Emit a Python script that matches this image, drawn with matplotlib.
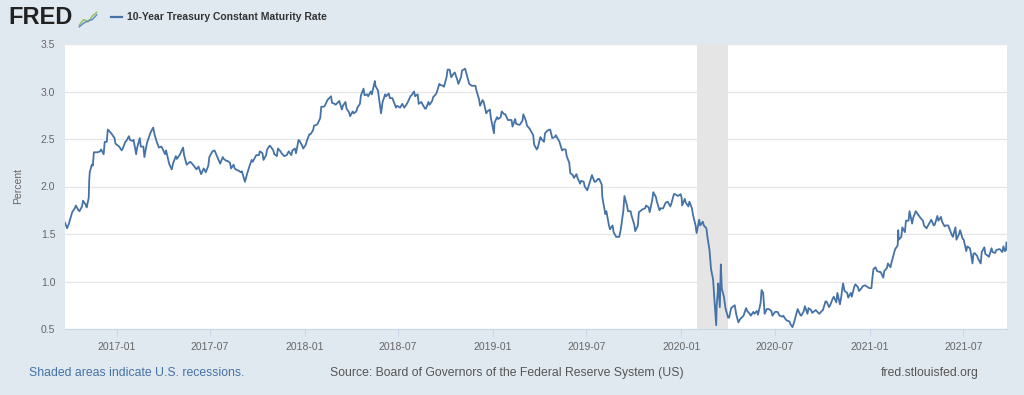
import pandas as pd
import matplotlib.pyplot as plt
import matplotlib.dates as mdates

plt.rcParams['font.family'] = ['Liberation Sans', 'DejaVu Sans']

# Valores aproximados (10-Year Treasury, %)
fechas_2016 = ['2016-09-23', '2016-09-27', '2016-09-30', '2016-10-05', '2016-10-07', '2016-10-12',
               '2016-10-14', '2016-10-19', '2016-10-21', '2016-10-26', '2016-10-28', '2016-11-02',
               '2016-11-04', '2016-11-08', '2016-11-09', '2016-11-10', '2016-11-14', '2016-11-16',
               '2016-11-18', '2016-11-23', '2016-11-25', '2016-11-30', '2016-12-02', '2016-12-07',
               '2016-12-09', '2016-12-13', '2016-12-15', '2016-12-20', '2016-12-23', '2016-12-28',
               '2016-12-30']
tasa_2016 = [1.62, 1.56, 1.60, 1.69, 1.73, 1.77, 1.80, 1.75, 1.74, 1.79, 1.85, 1.81,
             1.78, 1.88, 2.07, 2.15, 2.23, 2.22, 2.36, 2.36, 2.36, 2.37, 2.39, 2.34,
             2.47, 2.47, 2.60, 2.57, 2.55, 2.51, 2.45]

fechas_2017 = ['2017-01-06', '2017-01-11', '2017-01-13', '2017-01-18', '2017-01-20', '2017-01-25',
               '2017-01-27', '2017-02-01', '2017-02-03', '2017-02-08', '2017-02-10', '2017-02-15',
               '2017-02-17', '2017-02-22', '2017-02-24', '2017-03-01', '2017-03-03', '2017-03-08',
               '2017-03-13', '2017-03-16', '2017-03-20', '2017-03-24', '2017-03-29', '2017-03-31',
               '2017-04-05', '2017-04-07', '2017-04-13', '2017-04-18', '2017-04-21', '2017-04-26',
               '2017-04-28', '2017-05-03', '2017-05-05', '2017-05-10', '2017-05-12', '2017-05-17',
               '2017-05-19', '2017-05-24', '2017-05-26', '2017-06-01', '2017-06-05', '2017-06-09',
               '2017-06-14', '2017-06-19', '2017-06-23', '2017-06-28', '2017-06-30', '2017-07-06',
               '2017-07-10', '2017-07-14', '2017-07-19', '2017-07-21', '2017-07-26', '2017-07-28',
               '2017-08-02', '2017-08-04', '2017-08-09', '2017-08-11', '2017-08-16', '2017-08-18',
               '2017-08-23', '2017-08-25', '2017-08-30', '2017-09-01', '2017-09-07', '2017-09-11',
               '2017-09-15', '2017-09-20', '2017-09-22', '2017-09-27', '2017-09-29', '2017-10-04',
               '2017-10-06', '2017-10-11', '2017-10-13', '2017-10-18', '2017-10-20', '2017-10-25',
               '2017-10-27', '2017-11-01', '2017-11-03', '2017-11-08', '2017-11-10', '2017-11-15',
               '2017-11-17', '2017-11-22', '2017-11-27', '2017-12-01', '2017-12-06', '2017-12-08',
               '2017-12-13', '2017-12-15', '2017-12-20', '2017-12-22', '2017-12-27', '2017-12-29']
tasa_2017 = [2.42, 2.38, 2.40, 2.47, 2.48, 2.53, 2.49, 2.48, 2.49, 2.34, 2.41, 2.51,
             2.42, 2.42, 2.31, 2.46, 2.49, 2.57, 2.62, 2.54, 2.47, 2.41, 2.42, 2.40,
             2.34, 2.38, 2.24, 2.18, 2.25, 2.32, 2.29, 2.33, 2.35, 2.41, 2.33, 2.23,
             2.24, 2.26, 2.25, 2.21, 2.18, 2.21, 2.13, 2.19, 2.15, 2.22, 2.31, 2.37,
             2.38, 2.33, 2.27, 2.24, 2.31, 2.29, 2.27, 2.27, 2.25, 2.19, 2.23, 2.19,
             2.17, 2.17, 2.15, 2.16, 2.05, 2.13, 2.20, 2.28, 2.26, 2.31, 2.33, 2.33,
             2.37, 2.35, 2.28, 2.33, 2.39, 2.43, 2.42, 2.38, 2.34, 2.32, 2.40, 2.37,
             2.35, 2.32, 2.33, 2.37, 2.33, 2.38, 2.40, 2.35, 2.49, 2.48, 2.43, 2.40]

fechas_2018 = ['2018-01-03', '2018-01-05', '2018-01-10', '2018-01-12', '2018-01-17', '2018-01-19',
               '2018-01-24', '2018-01-26', '2018-01-31', '2018-02-02', '2018-02-07', '2018-02-09',
               '2018-02-14', '2018-02-21', '2018-02-23', '2018-02-28', '2018-03-02', '2018-03-07',
               '2018-03-09', '2018-03-14', '2018-03-16', '2018-03-21', '2018-03-23', '2018-03-28',
               '2018-03-30', '2018-04-04', '2018-04-06', '2018-04-11', '2018-04-13', '2018-04-18',
               '2018-04-20', '2018-04-25', '2018-04-27', '2018-05-02', '2018-05-04', '2018-05-09',
               '2018-05-11', '2018-05-17', '2018-05-18', '2018-05-23', '2018-05-25', '2018-05-29',
               '2018-06-01', '2018-06-06', '2018-06-08', '2018-06-13', '2018-06-15', '2018-06-20',
               '2018-06-22', '2018-06-27', '2018-06-29', '2018-07-05', '2018-07-09', '2018-07-13',
               '2018-07-18', '2018-07-20', '2018-07-25', '2018-07-27', '2018-08-01', '2018-08-03',
               '2018-08-08', '2018-08-10', '2018-08-15', '2018-08-17', '2018-08-22', '2018-08-24',
               '2018-08-29', '2018-08-31', '2018-09-05', '2018-09-07', '2018-09-12', '2018-09-14',
               '2018-09-19', '2018-09-21', '2018-09-26', '2018-09-28', '2018-10-03', '2018-10-05',
               '2018-10-09', '2018-10-12', '2018-10-17', '2018-10-19', '2018-10-24', '2018-10-26',
               '2018-10-31', '2018-11-02', '2018-11-08', '2018-11-13', '2018-11-16', '2018-11-21',
               '2018-11-23', '2018-11-28', '2018-11-30', '2018-12-05', '2018-12-07', '2018-12-12',
               '2018-12-14', '2018-12-19', '2018-12-21', '2018-12-26', '2018-12-28']
tasa_2018 = [2.44, 2.48, 2.55, 2.55, 2.59, 2.64, 2.65, 2.66, 2.72, 2.84, 2.84, 2.85,
             2.91, 2.95, 2.88, 2.87, 2.86, 2.89, 2.90, 2.81, 2.85, 2.89, 2.82, 2.78,
             2.74, 2.79, 2.77, 2.79, 2.83, 2.87, 2.96, 3.03, 2.96, 2.97, 2.95, 3.00,
             2.97, 3.11, 3.06, 3.01, 2.93, 2.77, 2.89, 2.97, 2.95, 2.98, 2.93, 2.93,
             2.90, 2.83, 2.85, 2.83, 2.87, 2.83, 2.87, 2.89, 2.95, 2.96, 3.00, 2.95,
             2.97, 2.87, 2.89, 2.87, 2.82, 2.82, 2.89, 2.86, 2.90, 2.94, 2.97, 2.99,
             3.08, 3.07, 3.06, 3.05, 3.15, 3.23, 3.23, 3.15, 3.19, 3.20, 3.12, 3.08,
             3.15, 3.22, 3.24, 3.14, 3.08, 3.06, 3.06, 3.06, 3.01, 2.92, 2.85, 2.91,
             2.89, 2.77, 2.79, 2.81, 2.72]

fechas_2019 = ['2019-01-03', '2019-01-04', '2019-01-09', '2019-01-11', '2019-01-16', '2019-01-18',
               '2019-01-23', '2019-01-25', '2019-01-30', '2019-02-01', '2019-02-06', '2019-02-08',
               '2019-02-13', '2019-02-15', '2019-02-20', '2019-02-22', '2019-02-27', '2019-03-01',
               '2019-03-06', '2019-03-08', '2019-03-13', '2019-03-15', '2019-03-20', '2019-03-22',
               '2019-03-27', '2019-03-29', '2019-04-03', '2019-04-05', '2019-04-10', '2019-04-12',
               '2019-04-17', '2019-04-22', '2019-04-26', '2019-05-01', '2019-05-03', '2019-05-08',
               '2019-05-10', '2019-05-15', '2019-05-17', '2019-05-22', '2019-05-24', '2019-05-29',
               '2019-05-31', '2019-06-05', '2019-06-07', '2019-06-12', '2019-06-14', '2019-06-19',
               '2019-06-21', '2019-06-26', '2019-06-28', '2019-07-03', '2019-07-08', '2019-07-12',
               '2019-07-17', '2019-07-19', '2019-07-24', '2019-07-26', '2019-07-31', '2019-08-01',
               '2019-08-02', '2019-08-07', '2019-08-09', '2019-08-14', '2019-08-16', '2019-08-21',
               '2019-08-23', '2019-08-28', '2019-09-03', '2019-09-06', '2019-09-11', '2019-09-13',
               '2019-09-18', '2019-09-20', '2019-09-25', '2019-09-27', '2019-10-02', '2019-10-04',
               '2019-10-09', '2019-10-11', '2019-10-16', '2019-10-18', '2019-10-23', '2019-10-25',
               '2019-10-30', '2019-11-01', '2019-11-06', '2019-11-08', '2019-11-13', '2019-11-15',
               '2019-11-20', '2019-11-22', '2019-11-27', '2019-12-02', '2019-12-06', '2019-12-11',
               '2019-12-13', '2019-12-18', '2019-12-20', '2019-12-26', '2019-12-31']
tasa_2019 = [2.56, 2.67, 2.73, 2.71, 2.73, 2.79, 2.76, 2.76, 2.70, 2.70, 2.70, 2.63,
             2.71, 2.66, 2.65, 2.65, 2.69, 2.76, 2.69, 2.64, 2.61, 2.59, 2.54, 2.44,
             2.39, 2.41, 2.52, 2.50, 2.47, 2.56, 2.59, 2.60, 2.51, 2.52, 2.54, 2.49,
             2.47, 2.38, 2.39, 2.39, 2.32, 2.25, 2.14, 2.12, 2.09, 2.13, 2.09, 2.03,
             2.06, 2.05, 2.00, 1.96, 2.05, 2.12, 2.05, 2.05, 2.08, 2.08, 2.02, 1.90,
             1.86, 1.71, 1.74, 1.59, 1.55, 1.59, 1.52, 1.47, 1.47, 1.55, 1.75, 1.90,
             1.80, 1.74, 1.74, 1.69, 1.60, 1.53, 1.59, 1.73, 1.75, 1.76, 1.77, 1.80,
             1.78, 1.73, 1.86, 1.94, 1.89, 1.84, 1.75, 1.77, 1.77, 1.83, 1.84, 1.79,
             1.82, 1.92, 1.92, 1.90, 1.92]

fechas_2020 = ['2020-01-02', '2020-01-03', '2020-01-08', '2020-01-10', '2020-01-15', '2020-01-17',
               '2020-01-22', '2020-01-24', '2020-01-29', '2020-01-31', '2020-02-05', '2020-02-07',
               '2020-02-12', '2020-02-14', '2020-02-19', '2020-02-21', '2020-02-25', '2020-02-28',
               '2020-03-03', '2020-03-06', '2020-03-09', '2020-03-10', '2020-03-12', '2020-03-13',
               '2020-03-16', '2020-03-18', '2020-03-20', '2020-03-24', '2020-03-27', '2020-04-01',
               '2020-04-03', '2020-04-07', '2020-04-09', '2020-04-14', '2020-04-17', '2020-04-21',
               '2020-04-24', '2020-04-29', '2020-05-01', '2020-05-06', '2020-05-08', '2020-05-13',
               '2020-05-15', '2020-05-20', '2020-05-22', '2020-05-27', '2020-05-29', '2020-06-03',
               '2020-06-05', '2020-06-08', '2020-06-11', '2020-06-15', '2020-06-19', '2020-06-24',
               '2020-06-26', '2020-07-01', '2020-07-06', '2020-07-10', '2020-07-15', '2020-07-17',
               '2020-07-22', '2020-07-24', '2020-07-29', '2020-07-31', '2020-08-04', '2020-08-07',
               '2020-08-12', '2020-08-14', '2020-08-19', '2020-08-21', '2020-08-26', '2020-08-28',
               '2020-09-02', '2020-09-04', '2020-09-09', '2020-09-11', '2020-09-16', '2020-09-18',
               '2020-09-23', '2020-09-25', '2020-09-30', '2020-10-02', '2020-10-07', '2020-10-09',
               '2020-10-14', '2020-10-16', '2020-10-21', '2020-10-23', '2020-10-28', '2020-10-30',
               '2020-11-04', '2020-11-06', '2020-11-10', '2020-11-13', '2020-11-18', '2020-11-20',
               '2020-11-25', '2020-11-27', '2020-12-02', '2020-12-04', '2020-12-09', '2020-12-11',
               '2020-12-16', '2020-12-18', '2020-12-23', '2020-12-28', '2020-12-31']
tasa_2020 = [1.88, 1.80, 1.87, 1.83, 1.79, 1.84, 1.77, 1.70, 1.59, 1.51, 1.65, 1.59,
             1.63, 1.59, 1.56, 1.47, 1.33, 1.13, 1.02, 0.77, 0.54, 0.76, 0.88, 0.98,
             0.73, 1.18, 0.92, 0.84, 0.72, 0.62, 0.62, 0.72, 0.73, 0.75, 0.65, 0.57,
             0.60, 0.63, 0.64, 0.72, 0.69, 0.66, 0.64, 0.68, 0.66, 0.69, 0.65, 0.77,
             0.91, 0.88, 0.66, 0.71, 0.71, 0.69, 0.64, 0.68, 0.68, 0.64, 0.63, 0.64,
             0.60, 0.59, 0.58, 0.55, 0.52, 0.57, 0.67, 0.71, 0.65, 0.64, 0.69, 0.74,
             0.66, 0.72, 0.70, 0.67, 0.69, 0.70, 0.67, 0.66, 0.69, 0.70, 0.79, 0.79,
             0.73, 0.75, 0.82, 0.84, 0.78, 0.88, 0.76, 0.82, 0.98, 0.90, 0.88, 0.83,
             0.88, 0.84, 0.95, 0.97, 0.94, 0.90, 0.93, 0.95, 0.96, 0.94, 0.93]

fechas_2021 = ['2021-01-04', '2021-01-06', '2021-01-08', '2021-01-12', '2021-01-15', '2021-01-20',
               '2021-01-22', '2021-01-27', '2021-01-29', '2021-02-03', '2021-02-05', '2021-02-10',
               '2021-02-12', '2021-02-17', '2021-02-19', '2021-02-24', '2021-02-25', '2021-02-26',
               '2021-03-03', '2021-03-05', '2021-03-10', '2021-03-12', '2021-03-17', '2021-03-19',
               '2021-03-24', '2021-03-26', '2021-03-31', '2021-04-05', '2021-04-09', '2021-04-14',
               '2021-04-16', '2021-04-21', '2021-04-23', '2021-04-28', '2021-04-30', '2021-05-05',
               '2021-05-07', '2021-05-12', '2021-05-14', '2021-05-19', '2021-05-21', '2021-05-26',
               '2021-05-28', '2021-06-02', '2021-06-04', '2021-06-09', '2021-06-11', '2021-06-16',
               '2021-06-18', '2021-06-23', '2021-06-25', '2021-06-30', '2021-07-02', '2021-07-07',
               '2021-07-09', '2021-07-14', '2021-07-16', '2021-07-19', '2021-07-21', '2021-07-23',
               '2021-07-28', '2021-07-30', '2021-08-04', '2021-08-06', '2021-08-11', '2021-08-13',
               '2021-08-18', '2021-08-20', '2021-08-25', '2021-08-27', '2021-09-01', '2021-09-03',
               '2021-09-08', '2021-09-10', '2021-09-15', '2021-09-17', '2021-09-20', '2021-09-22',
               '2021-09-23']
tasa_2021 = [0.93, 1.04, 1.13, 1.15, 1.11, 1.10, 1.10, 1.04, 1.11, 1.14, 1.19, 1.15,
             1.20, 1.30, 1.34, 1.38, 1.54, 1.44, 1.47, 1.57, 1.52, 1.64, 1.64, 1.74,
             1.61, 1.67, 1.74, 1.70, 1.67, 1.64, 1.59, 1.56, 1.58, 1.63, 1.65, 1.59,
             1.60, 1.69, 1.64, 1.68, 1.63, 1.58, 1.59, 1.59, 1.56, 1.49, 1.47, 1.57,
             1.44, 1.50, 1.54, 1.45, 1.44, 1.32, 1.37, 1.35, 1.30, 1.19, 1.29, 1.30,
             1.27, 1.24, 1.19, 1.31, 1.36, 1.29, 1.27, 1.26, 1.35, 1.31, 1.30, 1.33,
             1.34, 1.34, 1.31, 1.37, 1.32, 1.33, 1.41]

fechas = pd.to_datetime(fechas_2016 + fechas_2017 + fechas_2018 + fechas_2019 + fechas_2020 + fechas_2021)
tasas = tasa_2016 + tasa_2017 + tasa_2018 + tasa_2019 + tasa_2020 + tasa_2021

recesion_inicio = pd.Timestamp('2020-02-01')
recesion_fin = pd.Timestamp('2020-04-01')

etiquetas_x = ['2017-01', '2017-07', '2018-01', '2018-07', '2019-01',
               '2019-07', '2020-01', '2020-07', '2021-01', '2021-07']
ticks_y = [0.5, 1.0, 1.5, 2.0, 2.5, 3.0, 3.5]

fondo = '#e1e9f0'
azul = '#4572a7'

fig = plt.figure(figsize=(10.24, 3.95), dpi=100, facecolor=fondo)
ax = fig.add_axes([65/1024, 1 - 329/395, (1007-65)/1024, (329-44)/395])
ax.set_facecolor('white')

ax.axvspan(recesion_inicio, recesion_fin, color='#e5e5e5', lw=0, zorder=1)
ax.plot(fechas, tasas, color=azul, linewidth=1.3, zorder=3)

ax.set_xlim(pd.Timestamp('2016-09-23'), pd.Timestamp('2021-09-24'))
ax.set_ylim(0.5, 3.5)
ax.set_yticks(ticks_y)
ax.set_yticklabels([f'{v:.1f}' for v in ticks_y])
ax.set_xticks(pd.to_datetime([e + '-01' for e in etiquetas_x]))
ax.set_xticklabels(etiquetas_x)
ax.grid(axis='y', color='#e6e6e6', linewidth=1, zorder=0)
ax.set_axisbelow(True)

for lado in ['top', 'right', 'left']:
    ax.spines[lado].set_visible(False)
ax.spines['bottom'].set_color('#ccd6eb')
ax.tick_params(axis='y', length=0, pad=7, labelsize=7.5, labelcolor='#666666')
ax.tick_params(axis='x', length=5, color='#ccd6eb', pad=4, labelsize=7.5, labelcolor='#666666')
ax.set_ylabel('Percent', fontsize=7.5, color='#666666', labelpad=13)

# Encabezado estilo FRED
fig.text(8/1024, 1 - 18/395, 'FRED', fontsize=17, fontweight='bold', color='#222222',
         va='center', ha='left')
icono = fig.add_axes([78/1024, 1 - 28/395, 20/1024, 18/395])
icono.set_facecolor('#eef2f4')
icono.plot([0, 1, 2, 3, 4], [0.5, 1.4, 1.0, 2.0, 2.6], color='#8fbf4f', linewidth=1)
icono.plot([0, 1, 2, 3, 4], [0.2, 0.8, 1.2, 1.4, 2.2], color='#5b86c4', linewidth=1)
icono.set_xlim(-0.3, 4.3)
icono.set_ylim(0, 3)
icono.axis('off')
fig.lines.append(plt.Line2D([111/1024, 122/1024], [1 - 17/395, 1 - 17/395],
                            transform=fig.transFigure, color=azul, linewidth=1.6))
fig.text(127/1024, 1 - 17/395, '10-Year Treasury Constant Maturity Rate', fontsize=7.5,
         fontweight='bold', color='#333333', va='center', ha='left')

# Pie
fig.text(29/1024, 1 - 373/395, 'Shaded areas indicate U.S. recessions.', fontsize=8.8,
         color=azul, va='center', ha='left')
fig.text(507/1024, 1 - 373/395, 'Source: Board of Governors of the Federal Reserve System (US)',
         fontsize=8.8, color='#555555', va='center', ha='center')
fig.text(979/1024, 1 - 373/395, 'fred.stlouisfed.org', fontsize=8.8, color='#555555',
         va='center', ha='right')

plt.savefig('out.png', dpi=100, facecolor=fondo)
